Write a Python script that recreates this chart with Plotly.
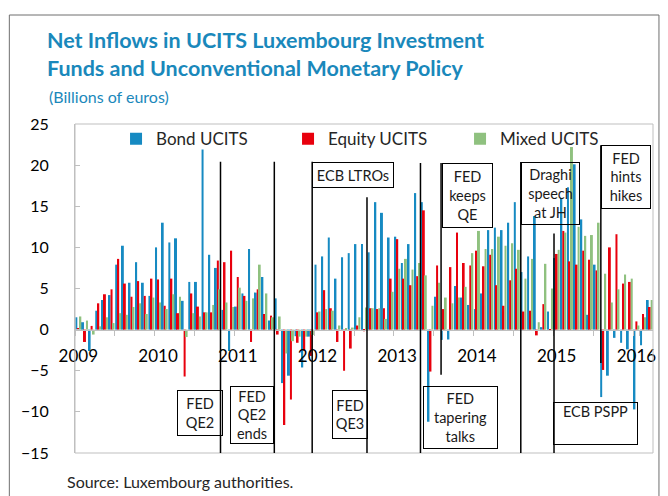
import pandas as pd
import plotly.graph_objects as go

# monthly categories, Jan 2009 - Mar 2016
months = list(pd.date_range("2009-01-01", periods=87, freq="MS").strftime("%b %Y"))

# net inflows, billions of euros
bond = [1.5, 0.9, -2.6, 2.3, 3.6, 4.2, 7.9, 10.2, 5.7, 8.2, 5.7, 4.1,
        10.0, 13.0, 10.6, 11.1, 3.5, 5.8, 5.8, 21.9, 9.1, 7.5, 2.4, -2.6,
        2.8, 4.4, 9.8, 4.5, 6.4, 1.1, 3.8, -6.5, -5.6, -0.8, -4.6, -0.85,
        7.9, 8.9, 11.2, 6.2, 8.8, 9.3, 10.4, 10.4, 9.4, 15.5, 14.2, 11.2,
        11.3, 8.1, 10.4, 16.6, 15.5, -11.2, 4.0, -1.25, -1.2, 5.3, 3.9, 3.0,
        2.5, 4.4, 12.1, 12.4, 12.1, 13.0, 15.5, 7.0, 8.9, 13.8, 0.3, 2.2,
        8.7, 16.0, 17.3, 20.1, 13.4, 1.8, 7.9, -8.2, -5.6, -1.0, -1.6, -2.4,
        -9.7, -1.9, 3.6]
equity = [0.2, -1.5, 0.45, 3.2, 4.3, 4.9, 8.6, 5.6, 4.0, 5.9, 4.1, 6.2,
          6.1, 2.9, 6.2, 2.0, -5.7, 4.4, 2.8, 2.1, 2.1, 8.4, 8.2, 9.6,
          6.4, 4.1, -1.5, 4.9, 1.9, 1.7, -0.6, -11.6, -8.5, -1.6, -2.55, -3.2,
          2.1, 4.8, 2.6, -1.5, -5.0, -2.3, 0.5, -0.2, 2.6, 2.5, 2.6, 6.2,
          11.0, 6.2, 5.4, 6.5, 14.5, -5.1, 7.8, 2.5, 7.6, 11.8, 8.1, 7.8,
          9.6, 7.7, 9.1, 5.4, 2.9, 6.0, 7.4, 2.2, 2.3, -0.7, 3.1, -0.15,
          9.2, 12.0, 8.3, 7.9, 9.6, 8.5, 7.2, -4.9, 10.0, 11.6, 5.6, 5.8,
          1.0, 1.9, 2.75]
mixed = [1.6, 1.1, -0.6, 0.4, 1.5, 0.8, 2.0, 1.8, 2.75, 3.2, 1.9, 3.9,
         3.3, 2.5, 4.3, 4.0, -0.9, 2.0, 1.6, 2.1, 3.0, 4.9, 3.3, 2.75,
         5.1, 3.5, 3.8, 7.9, 4.4, 1.5, 1.6, -2.9, -1.4, -0.85, -0.85, -0.65,
         2.2, 2.5, 2.3, 0.5, 0.15, 0.25, 1.5, 2.7, 2.6, 2.6, 1.3, 4.6,
         7.4, 8.6, 7.3, 8.1, 6.6, 2.9, 5.7, 3.9, 3.2, 3.9, 5.2, 9.3,
         12.0, 9.8, 9.8, 11.3, 10.2, 10.5, 9.7, 6.2, 8.6, 0.9, 8.0, 5.0,
         9.7, 11.8, 22.2, 12.5, 11.4, 11.5, 13.0, 6.8, 3.3, 4.9, 6.7, 6.2,
         0.5, 1.5, 3.6]

tick_months = months[::6]
tick_text = [m[-4:] if m.startswith("Jan") else "" for m in tick_months]

font = "Lato"
blue_title = "#1a88bb"

fig = go.Figure()
for name, vals, color in [("Bond UCITS", bond, "#168ac2"),
                          ("Equity UCITS", equity, "#e8000d"),
                          ("Mixed UCITS", mixed, "#8fc17f")]:
    fig.add_trace(go.Bar(x=months, y=vals, name=name, marker_color=color,
                         marker_line_width=0))

# policy events: vertical line (x, top, bottom) and label box (left, top, w, h)
events = [
    dict(x=21.4, y0=-15, y1=20.4, text="FED<br>QE2", bx=14.8, by=-7.34, w=44, h=44),
    dict(x=29.5, y0=-15, y1=20.4, text="FED<br>QE2<br>ends", bx=22.9, by=-6.86, w=42, h=56),
    dict(x=35.2, y0=-15, y1=20.4, text="ECB LTROs", bx=35.2, by=20.38, w=80, h=24),
    dict(x=43.45, y0=-15, y1=16.1, text="FED<br>QE3", bx=38.2, by=-7.34, w=34, h=47),
    dict(x=51.5, y0=-15, y1=20.25, text="FED<br>tapering<br>talks", bx=51.85, by=-6.86, w=73, h=61),
    dict(x=54.6, y0=-5.5, y1=20.25, text="FED<br>keeps<br>QE", bx=54.7, by=20.25, w=49, h=63),
    dict(x=66.6, y0=-15, y1=20.38, text="Draghi<br>speech<br>at JH", bx=66.7, by=20.38, w=57, h=61),
    dict(x=71.6, y0=-15, y1=11.7, text="ECB PSPP", bx=71.5, by=-8.8, w=83, h=41),
    dict(x=78.65, y0=-4.05, y1=22.43, text="FED<br>hints<br>hikes", bx=78.7, by=22.43, w=48, h=62),
]

shapes = [
    # plot frame
    dict(type="rect", xref="paper", yref="paper", x0=0, x1=1, y0=0, y1=1,
         line=dict(color="#bfbfbf", width=1)),
    # outer chart frame
    dict(type="rect", xref="paper", yref="paper", x0=-0.1136, x1=1.0103,
         y0=-0.143, y1=1.3313, line=dict(color="#6f6f6f", width=1)),
]
annotations = []
for ev in events:
    shapes.append(dict(type="line", xref="x", yref="y", x0=ev["x"], x1=ev["x"],
                       y0=ev["y0"], y1=ev["y1"], line=dict(color="black", width=1.5)))
    annotations.append(dict(x=ev["bx"], y=ev["by"], xref="x", yref="y",
                            xanchor="left", yanchor="top", text=ev["text"],
                            showarrow=False, width=ev["w"], height=ev["h"],
                            align="center",
                            valign="top" if ev["text"] == "ECB PSPP" else "middle",
                            bordercolor="black", borderwidth=1, borderpad=0,
                            font=dict(family=font, size=14.5, color="#1a1a1a")))

annotations.append(dict(text="(Billions of euros)", xref="paper", yref="paper",
                        x=-0.0482, y=1.085, xanchor="left", yanchor="middle",
                        showarrow=False, font=dict(family=font, size=16, color=blue_title)))
annotations.append(dict(text="Source: Luxembourg authorities.", xref="paper", yref="paper",
                        x=-0.0172, y=-0.088, xanchor="left", yanchor="middle",
                        showarrow=False, font=dict(family=font, size=16, color="#262626")))

fig.update_layout(
    width=668, height=496, autosize=False,
    margin=dict(l=75, r=12, t=124, b=43),
    paper_bgcolor="white", plot_bgcolor="white",
    barmode="group", bargap=0.1, bargroupgap=0,
    title=dict(text="<b>Net Inflows in UCITS Luxembourg Investment<br>"
                    "Funds and Unconventional Monetary Policy</b>",
               font=dict(family=font, size=21.5, color=blue_title),
               x=47 / 668, xanchor="left", xref="container",
               y=1 - 48 / 496, yanchor="top", yref="container"),
    legend=dict(orientation="h", x=0.071, xanchor="left", y=0.954, yanchor="middle",
                font=dict(family=font, size=17, color="#262626"),
                bgcolor="rgba(0,0,0,0)", entrywidth=127, traceorder="normal"),
    shapes=shapes,
    annotations=annotations,
    font=dict(family=font),
)
fig.update_yaxes(range=[-15, 25], tickvals=list(range(-15, 30, 5)), showgrid=False,
                 zeroline=False, showline=True, linecolor="#bfbfbf", ticks="inside",
                 ticklen=5, tickcolor="#bfbfbf", ticklabelstandoff=22,
                 tickfont=dict(family=font, size=16, color="black"))
fig.update_xaxes(type="category", range=[-0.5, 86.5], anchor="free", position=0.375,
                 showline=True, linecolor="#bfbfbf", showgrid=False, tickangle=0,
                 tickmode="array", tickvals=tick_months, ticktext=tick_text,
                 tickson="boundaries", ticks="outside", ticklen=5, tickcolor="#bfbfbf",
                 ticklabelstandoff=11, tickfont=dict(family=font, size=17, color="black"))

fig.write_html("out.html", config={"displayModeBar": False, "responsive": False},
               post_script="document.body.style.margin='0';"
                           "document.body.style.overflow='hidden';")
